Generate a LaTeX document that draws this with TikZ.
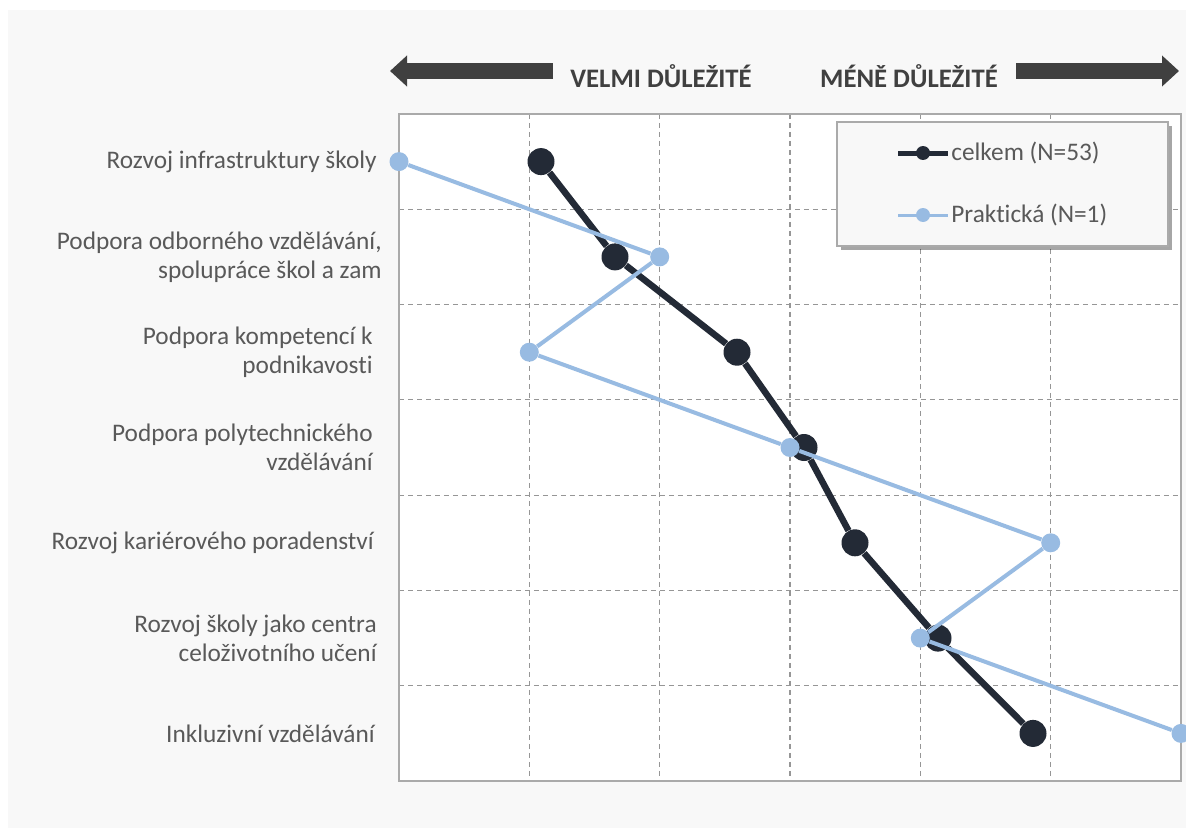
\documentclass[tikz,border=0pt]{standalone}
\usepackage{fontspec}
\setmainfont{Carlito}[Ligatures=CommonOff]
\usepackage{xcolor}
\usepackage{tikz}
\usetikzlibrary{positioning,arrows.meta,shadows}
\definecolor{CelkemNavy}{RGB}{35,42,54}
\definecolor{PraktBlue}{RGB}{152,187,226}
\definecolor{LabelGray}{RGB}{89,89,89}
\definecolor{HeadGray}{RGB}{64,64,64}
\definecolor{BackGray}{RGB}{248,248,248}
\definecolor{GridGray}{RGB}{150,150,150}
\definecolor{FrameGray}{RGB}{170,170,170}

\begin{document}
\begin{tikzpicture}[x=0.02cm, y=-0.02cm,
                % Styly bodů
                celkemdot/.style={circle, fill=CelkemNavy, minimum size=0.54cm, inner sep=0pt},
                praktdot/.style={circle, fill=PraktBlue, minimum size=0.38cm, inner sep=0pt},
                legdot/.style={circle, minimum size=0.28cm, inner sep=0pt},
                % Styly čar
                celkemline/.style={draw=CelkemNavy, line width=0.13cm},
                praktline/.style={draw=PraktBlue, line width=0.08cm},
                gridline/.style={draw=GridGray, line width=0.6pt, dash pattern=on 0.1cm off 0.08cm},
                headarrow/.style={draw=HeadGray, line width=0.32cm, -{Triangle[length=0.34cm, width=0.6cm]}},
                % Styly textů
                lbl/.style={anchor=east, align=right, inner sep=0pt, text=LabelGray, font=\fontsize{14.4}{16.4}\selectfont},
                headtext/.style={inner sep=0pt, text=HeadGray, font=\bfseries\fontsize{15.2}{18}\selectfont},
                legtext/.style={anchor=west, inner sep=0pt, text=LabelGray, font=\fontsize{14.4}{16.4}\selectfont},
                legendbox/.style={draw=FrameGray, line width=1pt, fill=BackGray, minimum width=6.62cm, minimum height=2.48cm,
                    drop shadow={shadow xshift=0.08cm, shadow yshift=-0.08cm, fill=black, opacity=0.35}}
            ]
                \useasboundingbox (0,0) rectangle (1186,828);
                \fill[white] (0,0) rectangle (1186,828);
                \fill[BackGray] (8,10) rectangle (1186,828);

                % --- ZÁHLAVÍ ---
                \node[headtext] (velmi) at (661,76) {VELMI DŮLEŽITÉ};
                \node[headtext] (mene) at (909,76) {MÉNĚ DŮLEŽITÉ};
                \coordinate (la1) at (553,71); \coordinate (la2) at (390,71);
                \coordinate (ra1) at (1016,71); \coordinate (ra2) at (1179,71);
                \draw[headarrow] (la1) -- (la2);
                \draw[headarrow] (ra1) -- (ra2);

                % --- GRAF ---
                \fill[white] (399,114) rectangle (1181,781);
                \draw[gridline] (529.3,114) -- (529.3,781); \draw[gridline] (659.7,114) -- (659.7,781);
                \draw[gridline] (790,114) -- (790,781); \draw[gridline] (920.3,114) -- (920.3,781);
                \draw[gridline] (1050.7,114) -- (1050.7,781);
                \draw[gridline] (399,209.3) -- (1181,209.3); \draw[gridline] (399,304.6) -- (1181,304.6);
                \draw[gridline] (399,399.9) -- (1181,399.9); \draw[gridline] (399,495.1) -- (1181,495.1);
                \draw[gridline] (399,590.4) -- (1181,590.4); \draw[gridline] (399,685.7) -- (1181,685.7);
                \draw[draw=FrameGray, line width=1.1pt] (399,114) rectangle (1181,781);

                % Popisky řádků
                \node[lbl] (l1) at (377,161.6) {Rozvoj infrastruktury školy};
                \node[lbl] (l2) at (382,256.9) {Podpora odborného vzdělávání,\\spolupráce škol a zam};
                \node[lbl] (l3) at (373,352.2) {Podpora kompetencí k\\podnikavosti};
                \node[lbl] (l4) at (373,447.5) {Podpora polytechnického\\vzdělávání};
                \node[lbl] (l5) at (374,542.8) {Rozvoj kariérového poradenství};
                \node[lbl] (l6) at (377,638.1) {Rozvoj školy jako centra\\celoživotního učení};
                \node[lbl] (l7) at (375,733.4) {Inkluzivní vzdělávání};

                % celkem (N=53)
                \node[celkemdot] (c1) at (541,161.6) {};
                \node[celkemdot] (c2) at (615,256.9) {};
                \node[celkemdot] (c3) at (737,352.2) {};
                \node[celkemdot] (c4) at (804,447.5) {};
                \node[celkemdot] (c5) at (855,542.8) {};
                \node[celkemdot] (c6) at (938,638.1) {};
                \node[celkemdot] (c7) at (1033,733.4) {};
                \draw[celkemline] (c1) -- (c2) -- (c3) -- (c4) -- (c5) -- (c6) -- (c7);

                % Praktická (N=1)
                \node[praktdot] (p1) at (399,161.6) {};
                \node[praktdot] (p2) at (659.7,256.9) {};
                \node[praktdot] (p3) at (529.3,352.2) {};
                \node[praktdot] (p4) at (790,447.5) {};
                \node[praktdot] (p5) at (1050.7,542.8) {};
                \node[praktdot] (p6) at (920.3,638.1) {};
                \node[praktdot] (p7) at (1181,733.4) {};
                \draw[praktline] (p1) -- (p2) -- (p3) -- (p4) -- (p5) -- (p6) -- (p7);

                % --- LEGENDA ---
                \node[legendbox] (leg) at (1002.5,184) {};
                \coordinate (lc1) at (898,153); \coordinate (lc2) at (948,153);
                \coordinate (lp1) at (898,215); \coordinate (lp2) at (948,215);
                \draw[celkemline, line width=0.1cm] (lc1) -- (lc2);
                \draw[praktline, line width=0.06cm] (lp1) -- (lp2);
                \node[legdot, fill=CelkemNavy] (lcd) at (923,153) {};
                \node[legdot, fill=PraktBlue] (lpd) at (923,215) {};
                \node[legtext, right=0.06cm of lc2] (lt1) {celkem (N=53)};
                \node[legtext, right=0.06cm of lp2] (lt2) {Praktická (N=1)};

            \end{tikzpicture}
\end{document}
